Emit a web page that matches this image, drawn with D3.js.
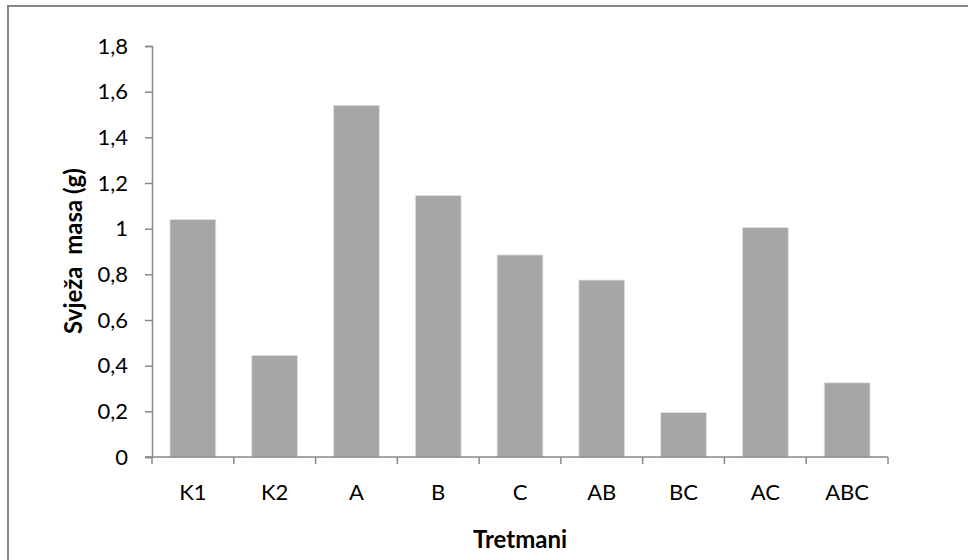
<!DOCTYPE html>
<html>
<head>
<meta charset="utf-8">
<script src="https://cdn.jsdelivr.net/npm/d3@7"></script>
<style>
  body { margin: 0; background: #fff; }
  svg { display: block; }
</style>
</head>
<body>
<svg></svg>
<script>
const tretmani = ['K1', 'K2', 'A', 'B', 'C', 'AB', 'BC', 'AC', 'ABC'];
const svjezaMasa = [1.04, 0.445, 1.54, 1.145, 0.885, 0.775, 0.195, 1.005, 0.325];
const yTicks = [0, 0.2, 0.4, 0.6, 0.8, 1, 1.2, 1.4, 1.6, 1.8];

const width = 968;
const height = 560;
const svg = d3.select('svg').attr('width', width).attr('height', height);
const font = 'Lato, "Open Sans", sans-serif';

// outer chart frame (right and bottom edges run off the picture)
svg.append('rect')
  .attr('x', 8).attr('y', 6)
  .attr('width', 980).attr('height', 580)
  .attr('fill', 'none')
  .attr('stroke', '#888')
  .attr('stroke-width', 2);

const plot = { left: 152, right: 888, top: 46, bottom: 457 };

const x = d3.scaleBand()
  .domain(tretmani)
  .range([plot.left, plot.right])
  .paddingInner(0.44)
  .paddingOuter(0.22);

const y = d3.scaleLinear()
  .domain([0, 1.8])
  .range([plot.bottom, plot.top]);

// bars
svg.append('g')
  .selectAll('rect')
  .data(tretmani)
  .join('rect')
  .attr('x', (d) => x(d))
  .attr('y', (d, i) => y(svjezaMasa[i]))
  .attr('width', x.bandwidth())
  .attr('height', (d, i) => y(0) - y(svjezaMasa[i]))
  .attr('fill', '#a6a6a6')
  .attr('stroke', '#e2e2e2')
  .attr('stroke-width', 0.8);

// y axis
const yAxis = svg.append('g')
  .attr('transform', `translate(${plot.left},0)`)
  .call(d3.axisLeft(y).tickValues(yTicks).tickSize(7).tickPadding(17)
    .tickFormat((d) => String(d).replace('.', ',')));
yAxis.select('.domain').attr('stroke', '#888').attr('stroke-width', 1.5);
yAxis.selectAll('.tick line').attr('stroke', '#888').attr('stroke-width', 1.5);
yAxis.selectAll('.tick text')
  .attr('font-family', font).attr('font-size', 22).attr('fill', '#000');

// x axis: ticks at the category boundaries
const bounds = d3.range(tretmani.length + 1).map((i) => plot.left + i * (plot.right - plot.left) / tretmani.length);
const xg = svg.append('g');
xg.append('line')
  .attr('x1', plot.left - 7).attr('x2', plot.right)
  .attr('y1', plot.bottom).attr('y2', plot.bottom)
  .attr('stroke', '#888').attr('stroke-width', 1.5);
xg.selectAll('line.tk')
  .data(bounds)
  .join('line')
  .attr('class', 'tk')
  .attr('x1', (d) => d).attr('x2', (d) => d)
  .attr('y1', plot.bottom).attr('y2', plot.bottom + 7)
  .attr('stroke', '#888').attr('stroke-width', 1.5);
xg.selectAll('text')
  .data(tretmani)
  .join('text')
  .attr('x', (d) => x(d) + x.bandwidth() / 2)
  .attr('y', 500)
  .attr('text-anchor', 'middle')
  .attr('font-family', font).attr('font-size', 22)
  .text((d) => d);

// axis titles
svg.append('text')
  .attr('x', 520).attr('y', 548)
  .attr('text-anchor', 'middle')
  .attr('font-family', font).attr('font-size', 24).attr('font-weight', 'bold')
  .text('Tretmani');

svg.append('text')
  .attr('transform', 'translate(82,251) rotate(-90)')
  .attr('text-anchor', 'middle')
  .attr('font-family', font).attr('font-size', 24).attr('font-weight', 'bold')
  .attr('xml:space', 'preserve')
  .style('white-space', 'pre')
  .text('Svježa  masa (g)');
</script>
</body>
</html>
